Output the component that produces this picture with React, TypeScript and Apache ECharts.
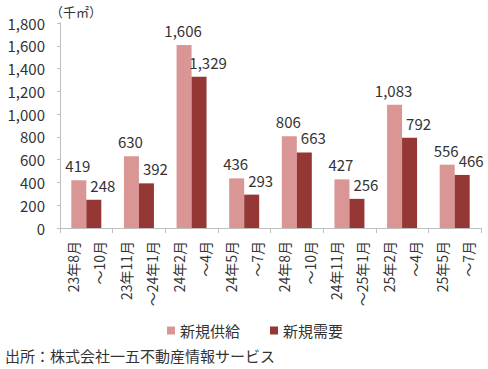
import React, { useEffect, useRef } from "react";
import * as echarts from "echarts";

const categories = [
  "23年8月\n～10月",
  "23年11月\n～24年1月",
  "24年2月\n～4月",
  "24年5月\n～7月",
  "24年8月\n～10月",
  "24年11月\n～25年1月",
  "25年2月\n～4月",
  "25年5月\n～7月",
];
const supply = [419, 630, 1606, 436, 806, 427, 1083, 556];
const demand = [248, 392, 1329, 293, 663, 256, 792, 466];
const seriesNames = ["新規供給", "新規需要"];
const unitLabel = "（千㎡）";
const sourceLabel = "出所：株式会社一五不動産情報サービス";

const FONT = "'Noto Sans CJK JP', 'Noto Sans', sans-serif";
const TEXT = "#333333";
const AXIS = "#BFBFBF";

export default function App() {
  const ref = useRef<HTMLDivElement>(null);
  useEffect(() => {
    if (!ref.current) return;
    const chart = echarts.init(ref.current, null, { renderer: "svg" });
    const fmt = (p: any) => Number(p.value).toLocaleString("en-US");
    chart.setOption({
      animation: false,
      textStyle: { fontFamily: FONT },
      grid: { left: 60, right: 7, top: 23, bottom: 141, containLabel: false },
      legend: {
        left: 162,
        top: 318,
        itemWidth: 8,
        itemHeight: 8,
        itemGap: 30,
        icon: "rect",
        textStyle: { fontSize: 15, color: TEXT, fontFamily: FONT, padding: [0, 0, 0, 0] },
        data: seriesNames,
      },
      xAxis: {
        type: "category",
        data: categories,
        boundaryGap: true,
        axisLine: { lineStyle: { color: AXIS } },
        axisTick: { show: true, length: 5, alignWithLabel: false, lineStyle: { color: AXIS } },
        axisLabel: {
          rotate: 90,
          interval: 0,
          fontSize: 14,
          lineHeight: 26,
          color: TEXT,
          margin: 13,
          fontFamily: FONT,
        },
      },
      yAxis: {
        type: "value",
        min: 0,
        max: 1800,
        interval: 200,
        splitLine: { show: false },
        axisLine: { show: true, lineStyle: { color: AXIS } },
        axisTick: { show: true, length: 3, lineStyle: { color: AXIS } },
        axisLabel: {
          fontSize: 15,
          color: TEXT,
          margin: 15,
          fontFamily: FONT,
          formatter: (v: number) => v.toLocaleString("en-US"),
        },
      },
      series: [
        {
          name: seriesNames[0],
          type: "bar",
          data: supply,
          barWidth: 15,
          barGap: "0%",
          itemStyle: { color: "#D99694" },
          label: {
            show: true,
            position: "top",
            distance: 7,
            offset: [-1, 0],
            fontSize: 15,
            color: TEXT,
            fontFamily: FONT,
            formatter: fmt,
          },
        },
        {
          name: seriesNames[1],
          type: "bar",
          data: demand,
          barWidth: 15,
          barGap: "0%",
          itemStyle: { color: "#953735" },
          label: {
            show: true,
            position: "top",
            distance: 7,
            offset: [9, 0],
            fontSize: 15,
            color: TEXT,
            fontFamily: FONT,
            formatter: fmt,
          },
        },
      ],
      graphic: [
        {
          type: "text",
          left: 50,
          top: 5,
          style: { text: unitLabel, fontSize: 13, fill: TEXT, fontFamily: FONT },
        },
        {
          type: "text",
          left: 5,
          top: 348,
          style: { text: sourceLabel, fontSize: 15, fill: TEXT, fontFamily: FONT },
        },
      ],
    });
    return () => chart.dispose();
  }, []);
  return <div ref={ref} style={{ width: 488, height: 369, position: "absolute", left: 0, top: 0 }} />;
}
